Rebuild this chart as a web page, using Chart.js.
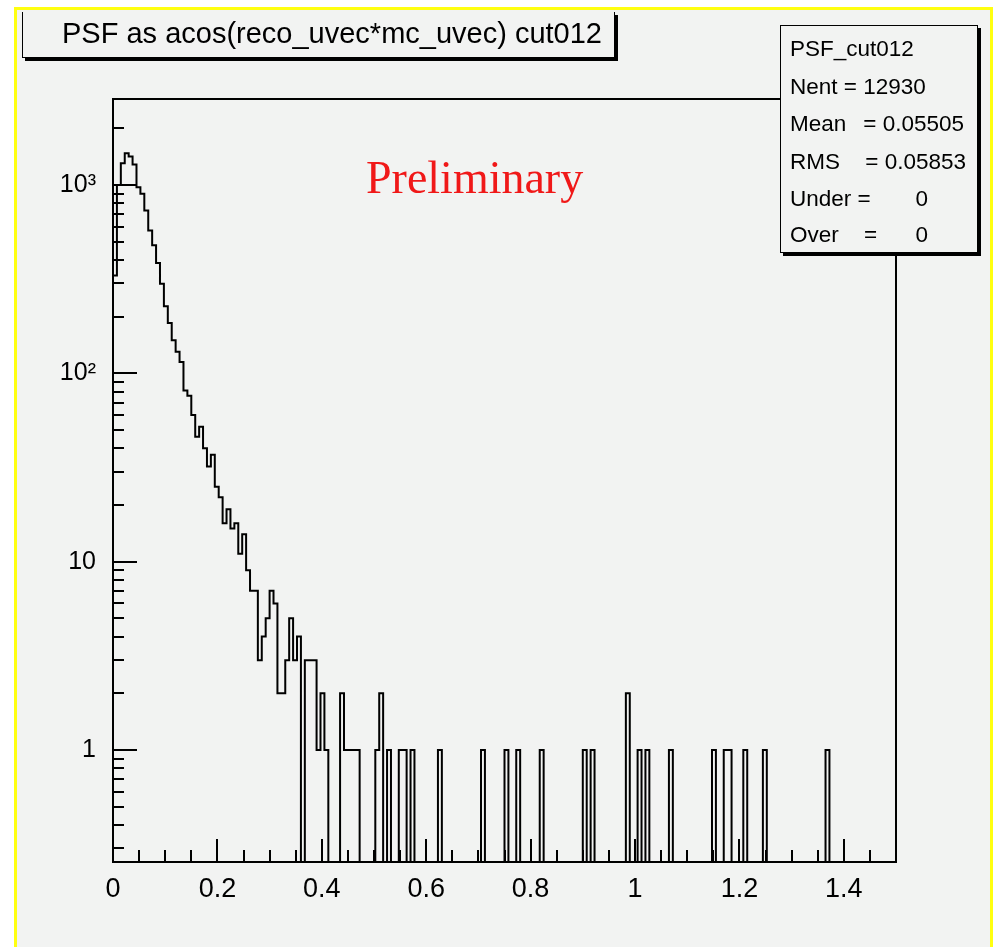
<!DOCTYPE html>
<html>
<head>
<meta charset="utf-8">
<title>PSF_cut012</title>
<script src="https://cdn.jsdelivr.net/npm/chart.js@4.4.1/dist/chart.umd.min.js"></script>
<style>
  html, body { margin: 0; padding: 0; background: #fff; }
  #page { position: relative; width: 996px; height: 947px; overflow: hidden; }
  #pad {
    position: absolute; left: 14px; top: 7px; width: 973px; height: 937px;
    border: 3px solid #ffff10; border-bottom: none; background: #f2f3f2;
  }
  #chart { position: absolute; left: 0; top: 0; }
  .txt { position: absolute; font-family: "Liberation Sans", Arial, sans-serif; color: #000; line-height: 1; white-space: pre; }
  #titlebox {
    position: absolute; left: 22px; top: 12px; width: 591px; height: 45px;
    border-left: 1px solid #000; border-right: 1px solid #000; border-bottom: 1px solid #000;
    box-shadow: 3px 3px 0 #000; background: #f2f3f2;
  }
  #title { left: 62px; top: 19px; font-size: 29px; }
  #stats {
    position: absolute; left: 780px; top: 25px; width: 196px; height: 226px;
    border: 1.5px solid #000; box-shadow: 3px 3px 0 #000; background: #f2f3f2;
  }
  .st { font-size: 22.5px; }
  #prelim { position: absolute; left: 366px; top: 155px; font-family: "Liberation Serif", "Times New Roman", serif;
    font-size: 46px; line-height: 1; color: #f01818; white-space: pre; }
</style>
</head>
<body>
<div id="page">
  <div id="pad"></div>
  <canvas id="chart" width="996" height="947"></canvas>
  <div id="titlebox"></div>
  <div class="txt" id="title">PSF as acos(reco_uvec*mc_uvec) cut012</div>
  <div id="stats"></div>
  <div class="txt st" style="left:790px; top:37.6px;">PSF_cut012</div>
  <div class="txt st" style="left:790px; top:76px;">Nent = 12930</div>
  <div class="txt st" style="left:790px; top:112.6px;">Mean</div>
  <div class="txt st" style="right:32px; top:112.6px;">= 0.05505</div>
  <div class="txt st" style="left:790px; top:151px;">RMS</div>
  <div class="txt st" style="right:30px; top:151px;">= 0.05853</div>
  <div class="txt st" style="left:790px; top:187.6px;">Under =</div>
  <div class="txt st" style="right:68px; top:187.6px;">0</div>
  <div class="txt st" style="left:790px; top:224.3px;">Over</div>
  <div class="txt st" style="left:864px; top:224.3px;">=</div>
  <div class="txt st" style="right:68px; top:224.3px;">0</div>
  <div id="prelim">Preliminary</div>
</div>
<script>
// histogram: 200 bins from 0 to 1.5, counts
const xMin = 0;
const xMax = 1.5;
const binCounts = [
  331, 1000, 1306, 1475, 1417, 1285, 973, 898, 732, 574,
  478, 385, 299, 227, 185, 150, 130, 115, 81, 76,
  60, 46, 52, 40, 32, 37, 25, 22, 16, 19,
  15, 16, 11, 14, 9, 7, 7, 3, 4, 5,
  7, 6, 2, 2, 3, 5, 3, 4, 0, 3,
  3, 3, 1, 2, 1, 0, 0, 0, 2, 1,
  1, 1, 1, 0, 0, 0, 0, 1, 2, 0,
  1, 0, 0, 1, 1, 0, 1, 0, 0, 0,
  0, 0, 0, 1, 0, 0, 0, 0, 0, 0,
  0, 0, 0, 0, 1, 0, 0, 0, 0, 0,
  1, 0, 0, 1, 0, 0, 0, 0, 0, 1,
  0, 0, 0, 0, 0, 0, 0, 0, 0, 0,
  1, 0, 1, 0, 0, 0, 0, 0, 0, 0,
  0, 2, 0, 0, 1, 0, 1, 0, 0, 0,
  0, 0, 1, 0, 0, 0, 0, 0, 0, 0,
  0, 0, 0, 1, 0, 0, 1, 1, 0, 0,
  0, 1, 0, 0, 0, 0, 1, 0, 0, 0,
  0, 0, 0, 0, 0, 0, 0, 0, 0, 0,
  0, 0, 1, 0, 0, 0, 0, 0, 0, 0,
  0, 0, 0, 0, 0, 0, 0, 0, 0, 0
];

const xTickValues = [0, 0.2, 0.4, 0.6, 0.8, 1, 1.2, 1.4];
const xTickLabels = ["0", "0.2", "0.4", "0.6", "0.8", "1", "1.2", "1.4"];
const yTickValues = [1, 10, 100, 1000];
const yTickLabels = ["1", "10", "10\u00b2", "10\u00b3"];
const yMin = 0.2542;
const yMax = 2862;

const tickFont = "'Liberation Sans', Arial, sans-serif";

// outline points: left edge of every bin, empty bins sit on the axis floor
const binWidth = (xMax - xMin) / binCounts.length;
const outline = [{ x: xMin, y: yMin }];
binCounts.forEach((c, i) => {
  outline.push({ x: xMin + i * binWidth, y: c > 0 ? c : yMin });
});
outline.push({ x: xMax, y: yMin });

// ROOT style frame with tick marks drawn inside the pad
const frameTicks = {
  id: "frameTicks",
  afterDatasetsDraw(chart) {
    const { ctx, chartArea: a, scales } = chart;
    const x = scales.x, y = scales.y;
    ctx.save();
    ctx.strokeStyle = "#000";
    ctx.lineWidth = 2;
    ctx.beginPath();
    for (let i = 0; i <= 30; i++) {
      const px = Math.round(x.getPixelForValue(i * 0.05));
      const len = i % 4 === 0 ? 23 : 12;
      ctx.moveTo(px, a.bottom);
      ctx.lineTo(px, a.bottom - len);
    }
    for (let e = -1; e <= 3; e++) {
      for (let m = 1; m <= 9; m++) {
        const v = m * Math.pow(10, e);
        if (v < yMin || v > yMax) continue;
        const py = Math.round(y.getPixelForValue(v));
        const len = m === 1 ? 24 : 11;
        ctx.moveTo(a.left, py);
        ctx.lineTo(a.left + len, py);
      }
    }
    ctx.stroke();
    ctx.strokeRect(a.left, a.top, a.right - a.left, a.bottom - a.top);
    ctx.restore();
  },
};

new Chart(document.getElementById("chart"), {
  type: "line",
  data: {
    datasets: [
      {
        label: "PSF_cut012",
        data: outline,
        stepped: true,
        borderColor: "#000",
        borderWidth: 2,
        pointRadius: 0,
        fill: false,
        tension: 0,
      },
    ],
  },
  options: {
    responsive: false,
    animation: false,
    devicePixelRatio: 1,
    layout: { padding: { left: 0, right: 100, top: 99, bottom: 0 } },
    plugins: {
      legend: { display: false },
      tooltip: { enabled: false },
    },
    scales: {
      x: {
        type: "linear",
        min: xMin,
        max: xMax,
        afterFit: (s) => { s.height = 85; },
        afterBuildTicks: (s) => { s.ticks = xTickValues.map((v) => ({ value: v })); },
        grid: { display: false, drawTicks: false },
        border: { display: false },
        ticks: {
          autoSkip: false,
          maxRotation: 0,
          padding: 11,
          color: "#000",
          font: { family: tickFont, size: 27 },
          callback: (v, i) => xTickLabels[i],
        },
      },
      y: {
        type: "logarithmic",
        min: yMin,
        max: yMax,
        afterFit: (s) => { s.width = 113; },
        afterBuildTicks: (s) => { s.ticks = yTickValues.map((v) => ({ value: v })); },
        grid: { display: false, drawTicks: false },
        border: { display: false },
        ticks: {
          autoSkip: false,
          padding: 17,
          color: "#000",
          font: { family: tickFont, size: 25 },
          callback: (v, i) => yTickLabels[i],
        },
      },
    },
  },
  plugins: [frameTicks],
});
</script>
</body>
</html>
